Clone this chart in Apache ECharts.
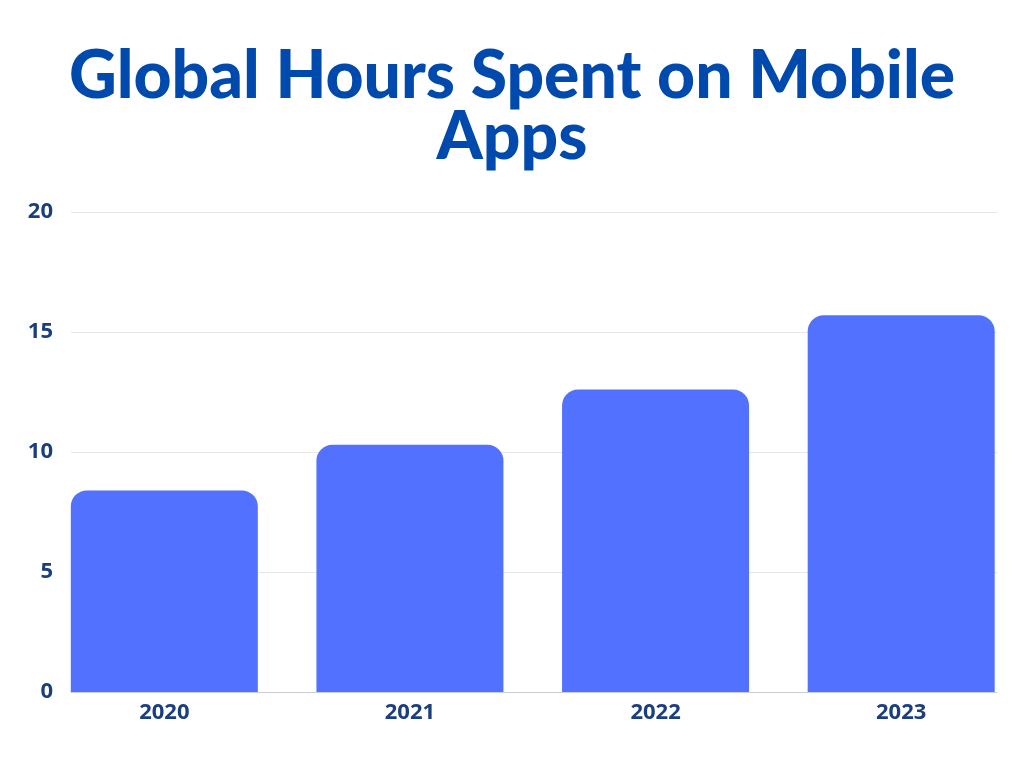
<!DOCTYPE html>
<html>
<head>
<meta charset="utf-8">
<script src="https://cdn.jsdelivr.net/npm/echarts@6/dist/echarts.min.js"></script>
<style>
html,body{margin:0;padding:0;background:#ffffff;}
#chart{width:1024px;height:768px;}
</style>
</head>
<body>
<div id="chart"></div>
<script>
const titleText = 'Global Hours Spent on Mobile\nApps';
const categories = ['2020', '2021', '2022', '2023'];
const hours = [8.4, 10.3, 12.6, 15.7];
const yMin = 0, yMax = 20, yStep = 5;

const labelColor = '#1b3f7c';
const chart = echarts.init(document.getElementById('chart'));
chart.setOption({
  backgroundColor: '#ffffff',
  animation: false,
  title: {
    text: titleText,
    left: 'center',
    top: 41,
    textStyle: {
      fontFamily: 'Lato',
      fontWeight: 900,
      fontSize: 66,
      lineHeight: 61,
      color: '#004aad'
    }
  },
  grid: [
    { left: 41.5, width: 986, top: 212, bottom: 76 },
    { left: 71, right: 27, top: 212, bottom: 76 }
  ],
  xAxis: [
    {
      gridIndex: 0, type: 'category', data: categories,
      axisLine: { show: false }, axisTick: { show: false },
      axisLabel: { color: labelColor, fontFamily: 'Open Sans', fontWeight: 'bold', fontSize: 22, margin: 10 }
    },
    {
      gridIndex: 1, type: 'category', data: categories,
      axisLine: { show: true, lineStyle: { color: '#c9cdd3', width: 1 } },
      axisTick: { show: false }, axisLabel: { show: false }, z: 5
    }
  ],
  yAxis: [
    { gridIndex: 0, type: 'value', min: yMin, max: yMax, interval: yStep, show: false, splitLine: { show: false } },
    {
      gridIndex: 1, type: 'value', min: yMin, max: yMax, interval: yStep,
      axisLine: { show: false }, axisTick: { show: false },
      axisLabel: { color: labelColor, fontFamily: 'Open Sans', fontWeight: 'bold', fontSize: 22, margin: 18 },
      splitLine: { lineStyle: { color: '#e4e7eb', width: 1 } }
    }
  ],
  series: [{
    type: 'bar',
    xAxisIndex: 0, yAxisIndex: 0,
    data: hours,
    barWidth: 187,
    itemStyle: { color: '#5271ff', borderRadius: [16, 16, 0, 0] },
    z: 3
  }]
});
</script>
</body>
</html>
